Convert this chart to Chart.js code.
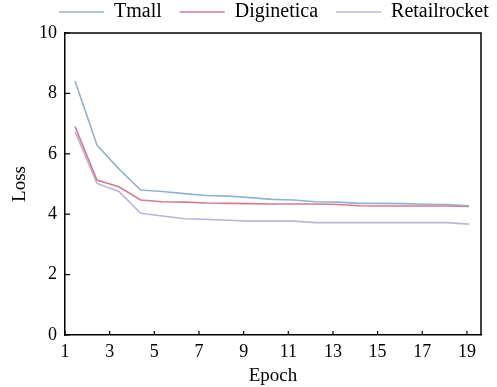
<!DOCTYPE html>
<html>
<head>
<meta charset="utf-8">
<script src="https://cdn.jsdelivr.net/npm/chart.js@4/dist/chart.umd.min.js"></script>
<style>
html,body{margin:0;padding:0;background:#fff;}
#wrap{width:497px;height:387px;}
</style>
</head>
<body>
<div id="wrap"><canvas id="c" width="497" height="387"></canvas></div>
<script>
const epochs = [1.45, 2.43, 3.41, 4.39, 5.37, 6.35, 7.33, 8.31, 9.29, 10.27, 11.25, 12.23, 13.21, 14.19, 15.17, 16.15, 17.13, 18.11, 19.09];
const tmall = [8.41, 6.29, 5.50, 4.80, 4.75, 4.68, 4.62, 4.60, 4.55, 4.49, 4.47, 4.41, 4.40, 4.36, 4.36, 4.35, 4.33, 4.32, 4.28];
const diginetica = [6.90, 5.13, 4.91, 4.47, 4.41, 4.40, 4.37, 4.36, 4.35, 4.34, 4.34, 4.34, 4.32, 4.28, 4.27, 4.27, 4.27, 4.27, 4.26];
const retailrocket = [6.73, 5.02, 4.75, 4.03, 3.94, 3.85, 3.83, 3.80, 3.77, 3.77, 3.77, 3.72, 3.72, 3.72, 3.72, 3.72, 3.72, 3.72, 3.67];
const xTicks = [1, 3, 5, 7, 9, 11, 13, 15, 17, 19];
const yTicks = [0, 2, 4, 6, 8, 10];
const seriesNames = ['Tmall', 'Diginetica', 'Retailrocket'];

const FONT = "'Times New Roman', 'Liberation Serif', serif";
const colors = ['#8fb4d2', '#d97a8c', '#b7b7de'];
const LEG_PAD = 18;

function pts(ys){ return ys.map((y,i)=>({x: epochs[i], y})); }

const framePlugin = {
  id: 'frame',
  afterLayout(chart){
    const lg = chart.legend;
    if (lg){ lg.left = 59 - LEG_PAD; lg.right = 560; lg.top = 13 - LEG_PAD - 11; }
  },
  afterDraw(chart){
    const {ctx, chartArea:a, scales:{x, y}} = chart;
    ctx.save();
    ctx.strokeStyle = '#000';
    ctx.lineWidth = 1.5;
    ctx.beginPath();
    ctx.moveTo(a.left, a.top); ctx.lineTo(a.right, a.top); ctx.lineTo(a.right, a.bottom);
    ctx.stroke();
    ctx.lineWidth = 1.2;
    ctx.beginPath();
    xTicks.forEach(v=>{ const px = x.getPixelForValue(v); ctx.moveTo(px, a.bottom); ctx.lineTo(px, a.bottom-4); });
    yTicks.forEach(v=>{ const py = y.getPixelForValue(v); ctx.moveTo(a.left, py); ctx.lineTo(a.left+5, py); });
    ctx.stroke();
    ctx.restore();
  }
};

new Chart(document.getElementById('c'), {
  type: 'line',
  data: {
    datasets: [tmall, diginetica, retailrocket].map((d,i)=>({
      label: seriesNames[i],
      data: pts(d),
      borderColor: colors[i],
      backgroundColor: colors[i],
      borderWidth: 1.6,
      pointRadius: 0,
      pointStyle: 'line',
      tension: 0,
      fill: false
    }))
  },
  options: {
    responsive: false,
    animation: false,
    layout: { padding: { left: 0, right: 16, top: 0, bottom: 0 } },
    plugins: {
      legend: {
        position: 'top',
        align: 'start',
        labels: {
          usePointStyle: true,
          pointStyle: 'line',
          pointStyleWidth: 45,
          padding: LEG_PAD,
          color: '#000',
          font: { family: FONT, size: 20 }
        }
      },
      tooltip: { enabled: false }
    },
    scales: {
      x: {
        type: 'linear',
        min: 1, max: 19.63,
        afterBuildTicks(s){ s.ticks = xTicks.map(v=>({value:v})); },
        afterFit(s){ s.height = 52; },
        grid: { display: false, drawTicks: false },
        border: { display: true, color: '#000', width: 1.5 },
        ticks: { color: '#000', font: { family: FONT, size: 18 }, padding: 6, maxRotation: 0, autoSkip: false },
        title: { display: true, text: 'Epoch', color: '#000', font: { family: FONT, size: 19 }, padding: { top: -7, bottom: 0 } }
      },
      y: {
        min: 0, max: 10,
        afterBuildTicks(s){ s.ticks = yTicks.map(v=>({value:v})); },
        afterFit(s){ s.width = 65; },
        grid: { display: false, drawTicks: false },
        border: { display: true, color: '#000', width: 1.5 },
        ticks: { color: '#000', font: { family: FONT, size: 18 }, padding: 8 },
        title: { display: true, text: 'Loss', color: '#000', font: { family: FONT, size: 19 }, padding: { top: 9, bottom: 0 } }
      }
    }
  },
  plugins: [framePlugin, {
    id: 'legendFit',
    beforeInit(chart){
      const lg = chart.legend;
      if (!lg) return;
      const orig = lg.fit;
      lg.fit = function(){
        const mw = this.maxWidth;
        this.maxWidth = 700;
        orig.call(this);
        this.maxWidth = mw;
        this.width = mw;
        this.height = 33;
      };
    }
  }]
});
</script>
</body>
</html>
